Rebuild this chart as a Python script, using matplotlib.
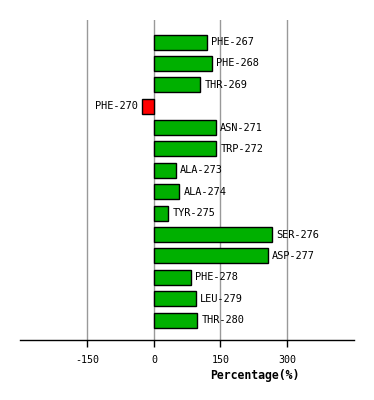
import matplotlib
matplotlib.use('Agg')
from matplotlib import pyplot as plt

residues = ['PHE-267', 'PHE-268', 'THR-269', 'PHE-270', 'ASN-271', 'TRP-272', 'ALA-273',
            'ALA-274', 'TYR-275', 'SER-276', 'ASP-277', 'PHE-278', 'LEU-279', 'THR-280']
percent = [120, 131, 104, -26, 139, 141, 49, 57, 32, 267, 256, 84, 95, 98]
ticks = [-150, 0, 150, 300]

plt.rcParams['font.family'] = ['DejaVu Sans Mono']

fig = plt.figure(figsize=(3.74, 4.0), dpi=100)
ax = fig.add_axes([20 / 374, 60 / 400, 334 / 374, 320 / 400])

colors = ['#00b000' if v >= 0 else '#ff0000' for v in percent]
pos = list(range(len(residues)))
ax.barh(pos, percent, height=0.7, color=colors, edgecolor='black', linewidth=1, zorder=3)

for t in ticks:
    ax.axvline(t, color='#999999', linewidth=1, zorder=1)

# labels next to the bar ends
for i, v in zip(pos, percent):
    if v >= 0:
        ax.annotate(residues[i], (v, i), xytext=(3, 0), textcoords='offset points',
                    ha='left', va='center', fontsize=7.4)
    else:
        ax.annotate(residues[i], (v, i), xytext=(-3, 0), textcoords='offset points',
                    ha='right', va='center', fontsize=7.4)

ax.set_xlim(-302, 451)
ax.set_ylim(len(residues) - 1 + 0.93, -1.03)
ax.set_xticks(ticks)
ax.set_xticklabels([str(t) for t in ticks], fontsize=7.2)
ax.set_yticks([])
ax.tick_params(axis='x', length=5, width=1, color='black', pad=6)
for s in ['left', 'top', 'right']:
    ax.spines[s].set_visible(False)
ax.spines['bottom'].set_linewidth(1)

fig.text(255 / 374, 1 - 375 / 400, 'Percentage(%)', ha='center', va='center',
         fontsize=8.3, fontweight='bold')

fig.savefig('out.png', dpi=100)
